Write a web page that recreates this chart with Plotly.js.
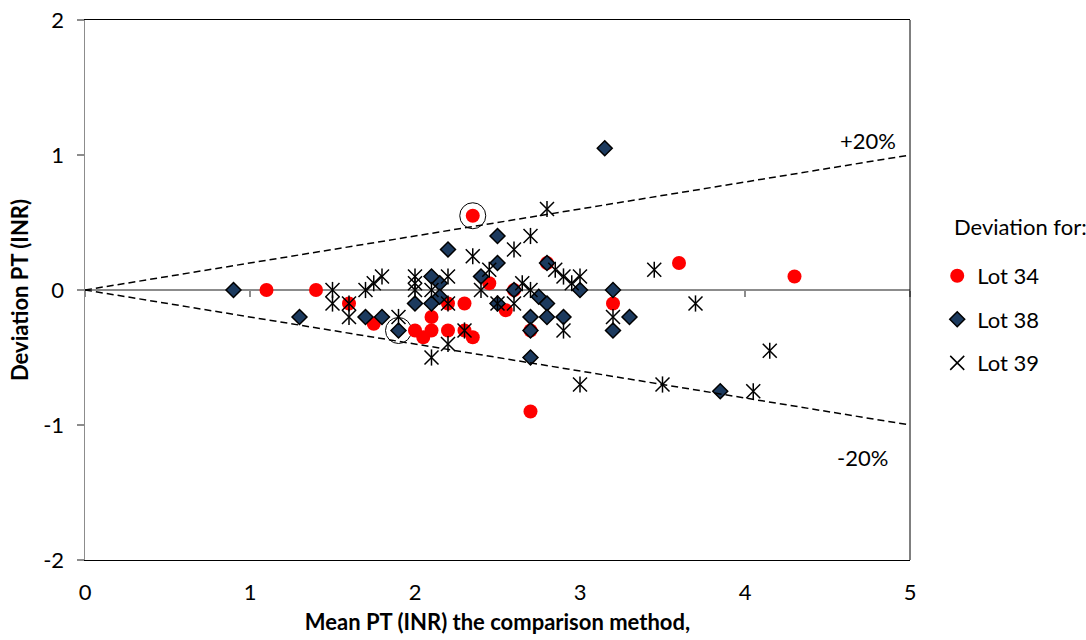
<!DOCTYPE html>
<html>
<head>
<meta charset="utf-8">
<script src="https://cdn.plot.ly/plotly-3.0.1.min.js"></script>
<style>html,body{margin:0;padding:0;background:#fff;}#chart{width:1086px;height:640px;}</style>
</head>
<body>
<div id="chart"></div>
<script>
// Lot 34 (red circles)
const lot34X = [1.1, 1.4, 1.6, 1.75, 2.0, 2.05, 2.1, 2.1, 2.2, 2.2, 2.3, 2.3, 2.35, 2.35, 2.45, 2.55, 2.6, 2.7, 2.7, 2.8, 3.2, 3.6, 4.3];
const lot34Y = [0, 0, -0.1, -0.25, -0.3, -0.35, -0.2, -0.3, -0.1, -0.3, -0.1, -0.3, -0.35, 0.55, 0.05, -0.15, 0, -0.3, -0.9, 0.2, -0.1, 0.2, 0.1];
// Lot 38 (diamonds)
const lot38X = [0.9, 1.3, 1.7, 1.8, 1.9, 2.0, 2.1, 2.1, 2.15, 2.15, 2.2, 2.4, 2.5, 2.5, 2.5, 2.6, 2.7, 2.7, 2.7, 2.75, 2.8, 2.8, 2.8, 2.9, 3.0, 3.15, 3.2, 3.2, 3.3, 3.85];
const lot38Y = [0, -0.2, -0.2, -0.2, -0.3, -0.1, 0.1, -0.1, 0.05, -0.05, 0.3, 0.1, 0.4, 0.2, -0.1, 0, -0.2, -0.3, -0.5, -0.05, -0.1, -0.2, 0.2, -0.2, 0, 1.05, 0, -0.3, -0.2, -0.75];
// Lot 39 (stars)
const lot39X = [1.5, 1.5, 1.6, 1.6, 1.7, 1.75, 1.8, 1.9, 2.0, 2.0, 2.0, 2.1, 2.1, 2.2, 2.2, 2.2, 2.3, 2.35, 2.4, 2.45, 2.5, 2.6, 2.6, 2.65, 2.7, 2.7, 2.8, 2.85, 2.9, 2.95, 3.0, 2.9, 3.0, 3.2, 3.45, 3.5, 3.7, 4.05, 4.15];
const lot39Y = [0, -0.1, -0.1, -0.2, 0, 0.05, 0.1, -0.2, 0.1, 0.05, 0, 0, -0.5, 0.1, -0.1, -0.4, -0.3, 0.25, 0, 0.15, -0.1, 0.3, -0.1, 0.05, 0.4, 0, 0.6, 0.15, 0.1, 0.05, 0.1, -0.3, -0.7, -0.2, 0.15, -0.7, -0.1, -0.75, -0.45];
// Highlighted (circled) points
const circledX = [2.35, 1.9];
const circledY = [0.55, -0.3];
// ±20% limit lines
const limitX = [0, 5];
const limitPct = 0.2;
const upperY = limitX.map(v => v * limitPct);
const lowerY = limitX.map(v => -v * limitPct);
const xTicks = [0, 1, 2, 3, 4, 5];
const yTicks = [-2, -1, 0, 1, 2];
const seriesNames = ['Lot 34', 'Lot 38', 'Lot 39'];
const legendTitle = 'Deviation for:';

const FONT = 'Lato, "Liberation Sans", Arial, sans-serif';
const FS = 22;

const traces = [
  {x: limitX, y: upperY, xaxis: 'x2', mode: 'lines', line: {color: '#000', width: 1.5, dash: '7px,4px'}, showlegend: false, hoverinfo: 'skip'},
  {x: limitX, y: lowerY, xaxis: 'x2', mode: 'lines', line: {color: '#000', width: 1.5, dash: '7px,4px'}, showlegend: false, hoverinfo: 'skip'},
  {x: circledX, y: circledY, mode: 'markers', marker: {symbol: 'circle-open', size: 26, color: '#000', line: {width: 1, color: '#000'}}, showlegend: false, hoverinfo: 'skip'},
  {x: lot34X, y: lot34Y, name: seriesNames[0], legendgroup: 'a', mode: 'markers', marker: {symbol: 'circle', size: 14, color: '#ff0000'}},
  {x: lot38X, y: lot38Y, name: seriesNames[1], legendgroup: 'b', mode: 'markers', marker: {symbol: 'diamond', size: 11.5, color: '#1c3a5e', line: {width: 1.5, color: '#000'}}},
  {x: lot39X, y: lot39Y, name: seriesNames[2], legendgroup: 'c', mode: 'markers',
   marker: {symbol: 'x-thin-open', size: 14, color: '#000', line: {width: 1.5, color: '#000'}},
   error_y: {type: 'constant', value: 0.06, width: 0, thickness: 1.5, color: '#000'}}
];

const layout = {
  width: 1086, height: 640,
  margin: {l: 85, r: 176, t: 20, b: 80},
  paper_bgcolor: '#fff', plot_bgcolor: '#fff',
  font: {family: FONT, size: FS, color: '#000'},
  showlegend: true,
  xaxis: {
    range: [0, 5], tickvals: xTicks, ticktext: xTicks.map(String),
    showgrid: false, zeroline: false, showline: true, linecolor: '#000', linewidth: 1, mirror: true,
    ticks: '', tickfont: {size: FS}, ticklabelstandoff: 13,
    title: {text: '<b>Mean PT (INR) the comparison method,</b>', font: {size: FS}, standoff: 10}
  },
  xaxis2: {
    range: [0, 5], overlaying: 'x', anchor: 'free', position: 0.5, layer: 'below traces',
    tickvals: xTicks, showticklabels: false, showgrid: false, zeroline: false,
    showline: true, linecolor: '#8c8c8c', linewidth: 2,
    ticks: 'outside', ticklen: 6, tickwidth: 1.5, tickcolor: '#8c8c8c'
  },
  yaxis: {
    range: [-2, 2], tickvals: yTicks, ticktext: yTicks.map(String),
    showgrid: false, zeroline: false, showline: true, linecolor: '#8c8c8c', linewidth: 1.5,
    ticks: 'outside', ticklen: 7, tickwidth: 1.5, tickcolor: '#8c8c8c', tickfont: {size: FS},
    ticklabelstandoff: 8,
    title: {text: '<b>Deviation PT (INR)</b>', font: {size: FS}, standoff: 8}
  },
  shapes: [
    {type: 'line', xref: 'paper', yref: 'paper', x0: 1, x1: 1, y0: 0, y1: 1, line: {color: '#000', width: 1}}
  ],
  legend: {
    x: 1.033, xanchor: 'left', y: 0.565, yanchor: 'top',
    font: {size: FS},
    traceorder: 'grouped', tracegroupgap: 12, bgcolor: 'rgba(0,0,0,0)'
  },
  annotations: [
    {x: 1.0509, y: 0.6185, xref: 'paper', yref: 'paper', xanchor: 'left', yanchor: 'middle', text: legendTitle, showarrow: false, font: {size: FS}},
    {x: 4.745, y: 1.11, xref: 'x', yref: 'y', text: '+20%', showarrow: false, font: {size: FS}},
    {x: 4.71, y: -1.237, xref: 'x', yref: 'y', text: '-20%', showarrow: false, font: {size: FS}}
  ]
};

Plotly.newPlot('chart', traces, layout, {displayModeBar: false, staticPlot: true});
</script>
</body>
</html>
